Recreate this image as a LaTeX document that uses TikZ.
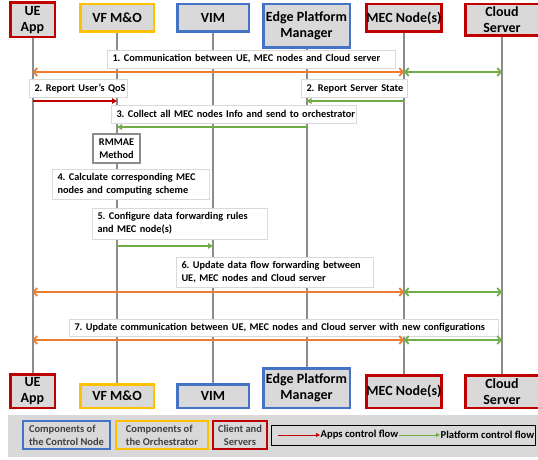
\documentclass[tikz,border=0pt]{standalone}
\usepackage{fontspec}
\setmainfont{Carlito}
\usetikzlibrary{arrows.meta,backgrounds}
\definecolor{cred}{HTML}{C00000}
\definecolor{cyel}{HTML}{FFC000}
\definecolor{cblu}{HTML}{4472C4}
\definecolor{cfill}{HTML}{D9D9D9}
\definecolor{corg}{HTML}{ED7D31}
\definecolor{cgrn}{HTML}{70AD47}
\definecolor{cline}{HTML}{8C8C8C}
\definecolor{ctxt}{HTML}{404040}
\frenchspacing
\begin{document}
\begin{tikzpicture}[x=1pt,y=-1pt,
  actor/.style={draw=#1, fill=cfill, line width=2.5pt, inner sep=0pt, align=center,
    font=\fontsize{14}{16}\selectfont\bfseries},
  lbl/.style={draw=black!15, fill=white, line width=0.6pt, inner xsep=5pt, inner ysep=1pt,
    align=left, font=\fontsize{10.3}{13}\selectfont\bfseries},
  method/.style={draw=cline, fill=white, line width=1.8pt, inner sep=0pt, align=center,
    font=\fontsize{10.3}{13}\selectfont\bfseries},
  lifeline/.style={draw=cline, line width=2pt},
  dblorg/.style={draw=corg, line width=1.8pt, {Straight Barb[length=3.5pt,width=8pt]}-{Straight Barb[length=3.5pt,width=8pt]}},
  dblgrn/.style={draw=cgrn, line width=1.8pt, {Straight Barb[length=3.5pt,width=8pt]}-{Straight Barb[length=3.5pt,width=8pt]}},
  apparr/.style={draw=cred, line width=1.8pt, -{Triangle[length=5pt,width=5.5pt]}},
  platarr/.style={draw=cgrn, line width=1.8pt, -{Triangle[length=5pt,width=5.5pt]}},
  lgbox/.style={draw=#1, fill=cfill, line width=1.8pt, inner sep=0pt,
    font=\fontsize{10.5}{13}\selectfont\bfseries, text=ctxt},
  lgtext/.style={inner sep=0.5pt, font=\fontsize{10.6}{12}\selectfont\bfseries},
  legred/.style={draw=cred, line width=0.9pt, -{Triangle[length=4pt,width=4pt]}},
  leggrn/.style={draw=cgrn, line width=0.9pt, -{Triangle[length=4pt,width=4pt]}}
]
\useasboundingbox (0,0) rectangle (538,460);

% top actors
\node[actor=cred, minimum width=44.5pt, minimum height=34.5pt] (ueT) at (32.5,20) {UE\\App};
\node[actor=cyel, minimum width=73.5pt, minimum height=27.5pt] (vfT) at (117,18) {VF M\&O};
\node[actor=cblu, minimum width=71.5pt, minimum height=27.5pt] (vimT) at (213,18) {VIM};
\node[actor=cblu, minimum width=86.5pt, minimum height=43.5pt] (epmT) at (306.5,26) {Edge Platform\\Manager};
\node[actor=cred, minimum width=73.5pt, minimum height=27.5pt] (mecT) at (404,18) {MEC Node(s)};
\node[actor=cred, minimum width=73.5pt, minimum height=31.5pt] (clT) at (502,20) {Cloud\\Server};

% bottom actors
\node[actor=cred, minimum width=44.5pt, minimum height=33.5pt] (ueB) at (32.5,391) {UE\\App};
\node[actor=cyel, minimum width=73.5pt, minimum height=23.5pt] (vfB) at (117,396) {VF M\&O};
\node[actor=cblu, minimum width=71.5pt, minimum height=23.5pt] (vimB) at (213,396) {VIM};
\node[actor=cblu, minimum width=86.5pt, minimum height=39.5pt] (epmB) at (306.5,388) {Edge Platform\\Manager};
\node[actor=cred, minimum width=73.5pt, minimum height=32.5pt] (mecB) at (404,391.5) {MEC Node(s)};
\node[actor=cred, minimum width=73.5pt, minimum height=32.5pt] (clB) at (502,391.5) {Cloud\\Server};

% lifelines
\begin{scope}[on background layer]
\fill[white] (0,0) rectangle (538,460);
\draw[lifeline] (ueT) -- (ueB);
\draw[lifeline] (vfT) -- (vfB);
\draw[lifeline] (vimT) -- (vimB);
\draw[lifeline] (epmT) -- (epmB);
\draw[lifeline] (mecT) -- (mecB);
\draw[lifeline] (clT) -- (clB);
\end{scope}

% message labels
\node[lbl, text width=278pt, minimum height=18pt] (l1) at (251.5,59) {\mbox{1. Communication between UE, MEC nodes and Cloud server}};
\node[lbl, text width=88pt, minimum height=18pt] (l2a) at (78.5,88.5) {\mbox{2. Report User's QoS}};
\node[lbl, text width=96pt, minimum height=18pt] (l2b) at (354.5,88.5) {\mbox{2. Report Server State}};
\node[lbl, text width=235pt, minimum height=18pt] (l3) at (234,114) {\mbox{3. Collect all MEC nodes Info and send to orchestrator}};
\node[method, minimum width=47pt, minimum height=29pt] (rm) at (116.5,148.5) {RMMAE\\Method};
\node[lbl, text width=147pt, minimum height=30pt] (l4) at (131,184) {\mbox{4. Calculate corresponding MEC}\\\mbox{nodes and computing scheme}};
\node[lbl, text width=165pt, minimum height=31pt] (l5) at (180,223.5) {\mbox{5. Configure data forwarding rules}\\\mbox{and MEC node(s)}};
\node[lbl, text width=187pt, minimum height=30pt] (l6) at (275,272) {\mbox{6. Update data flow forwarding between}\\\mbox{UE, MEC nodes and Cloud server}};
\node[lbl, text width=419pt, minimum height=17pt] (l7) at (284,327.5) {\mbox{7. Update communication between UE, MEC nodes and Cloud server with new configurations}};

% message levels
\coordinate (m1) at (0,72);
\coordinate (m2) at (0,101);
\coordinate (m3) at (0,127);
\coordinate (m5) at (0,246);
\coordinate (m6) at (0,292);
\coordinate (m7) at (0,340);

% arrows
\draw[dblorg] (ueT |- m1) -- (mecT |- m1);
\draw[dblgrn] (mecT |- m1) -- (clT |- m1);
\draw[apparr] (ueT |- m2) -- (vfT |- m2);
\draw[platarr] (mecT |- m2) -- (epmT |- m2);
\draw[platarr] (epmT |- m3) -- (vfT |- m3);
\draw[platarr] (vfT |- m5) -- (vimT |- m5);
\draw[dblorg] (ueT |- m6) -- (mecT |- m6);
\draw[dblgrn] (mecT |- m6) -- (clT |- m6);
\draw[dblorg] (ueT |- m7) -- (mecT |- m7);
\draw[dblgrn] (mecT |- m7) -- (clT |- m7);

% legend
\node[fill=cfill, draw=black!15, line width=0.5pt, minimum width=530pt, minimum height=41pt, inner sep=0pt] (legend) at (273,435.5) {};
\node[lgbox=cblu, minimum width=87.2pt, minimum height=28.2pt, align=left] (lgb) at (66.5,435) {Components of\\the Control Node};
\node[lgbox=cyel, minimum width=92.2pt, minimum height=28.2pt, align=left] (lgy) at (162,435) {Components of\\the Orchestrator};
\node[lgbox=cred, minimum width=54.2pt, minimum height=28.2pt, align=center] (lgr) at (240,435) {Client and\\Servers};
\node[draw=black, fill=cfill, line width=1.2pt, minimum width=263.8pt, minimum height=19.8pt, inner sep=0pt] (lgk) at (403.5,435.5) {};
\coordinate (la) at (278,435);
\node[lgtext, anchor=west] (lt1) at (320,435) {Apps control flow};
\node[lgtext, anchor=west] (lt2) at (440,435) {Platform control flow};
\draw[legred] (la) -- (lt1.west);
\draw[leggrn] (lt1.east) -- (lt2.west);
\end{tikzpicture}
\end{document}
